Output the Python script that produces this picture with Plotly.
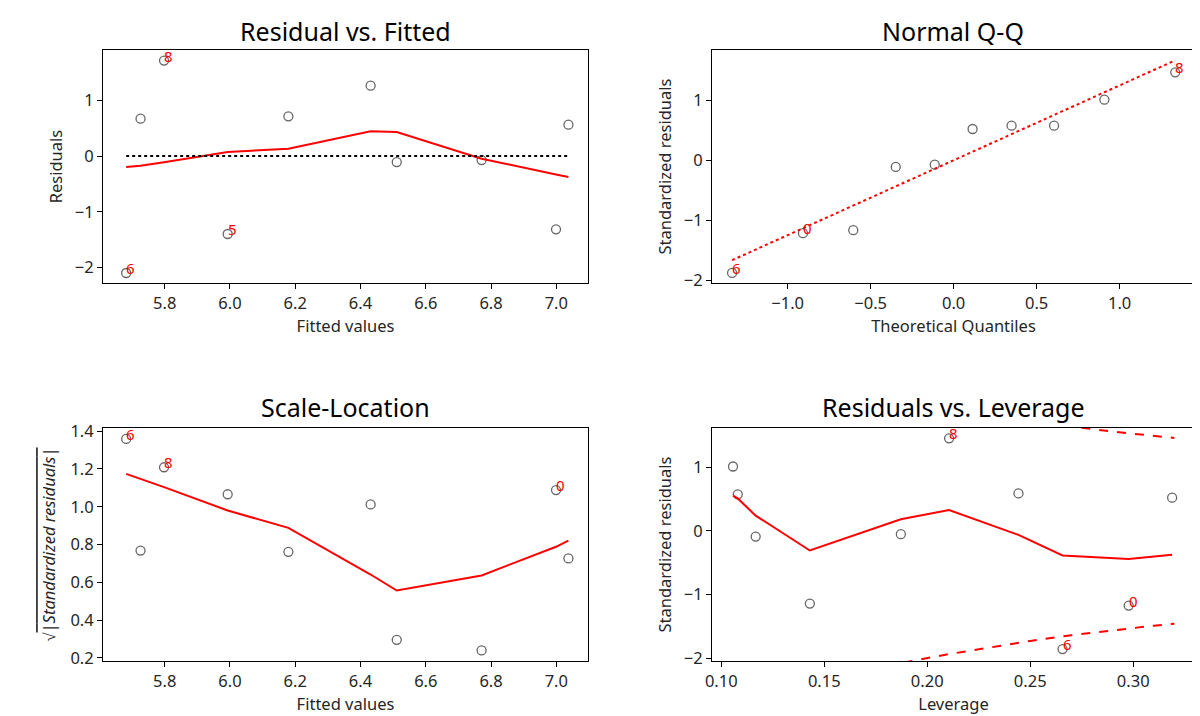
import plotly.graph_objects as go

# ---------------- data ----------------
idx = [0, 1, 2, 3, 4, 5, 6, 7, 8, 9]
fitted = [6.999, 5.726, 6.179, 6.431, 6.511, 5.993, 5.682, 6.771, 5.798, 7.037]
residuals = [-1.314, 0.669, 0.711, 1.26, -0.108, -1.398, -2.097, -0.072, 1.71, 0.561]

lowess_fit_x = [5.682, 5.726, 5.798, 5.993, 6.179, 6.431, 6.511, 6.771, 6.999, 7.037]
lowess_fit_y = [-0.197, -0.173, -0.11, 0.072, 0.131, 0.442, 0.43, -0.048, -0.33, -0.376]
zero_x = [5.682, 7.037]
zero_y = [0.0, 0.0]
label_fit = [8, 5, 6]

theo_q = [-1.335, -0.908, -0.605, -0.349, -0.114, 0.114, 0.349, 0.605, 0.908, 1.335]
sample_q = [-1.872, -1.21, -1.16, -0.105, -0.067, 0.528, 0.583, 0.583, 1.017, 1.473]
qq_ids = [6, 0, None, None, None, None, None, None, None, 8]
qq_line_x = [-1.335, 1.335]
qq_line_y = [-1.66, 1.673]

sqrt_std = [1.088, 0.768, 0.761, 1.012, 0.295, 1.066, 1.359, 0.239, 1.209, 0.726]
lowess_sl_y = [1.174, 1.149, 1.104, 0.98, 0.888, 0.641, 0.556, 0.636, 0.788, 0.821]
label_sl = [6, 8, 0]

leverage = [0.2978, 0.1057, 0.108, 0.1167, 0.143, 0.1872, 0.2106, 0.2443, 0.2657, 0.3189]
std_resid_lev = [-1.174, 1.012, 0.574, -0.089, -1.142, -0.052, 1.455, 0.589, -1.857, 0.522]
lev_ids = [0, None, None, None, None, None, 8, None, 6, None]
lowess_lev_x = [0.1057, 0.108, 0.1167, 0.143, 0.1872, 0.2106, 0.2443, 0.2657, 0.2978, 0.3189]
lowess_lev_y = [0.553, 0.51, 0.24, -0.308, 0.183, 0.329, -0.063, -0.386, -0.443, -0.376]
cook_x = [0.18, 0.19, 0.21, 0.23, 0.25, 0.27, 0.29, 0.31, 0.32]
cook_lo = [-2.13, -2.06, -1.94, -1.83, -1.73, -1.64, -1.56, -1.49, -1.46]
cook_hi = [2.13, 2.06, 1.94, 1.83, 1.73, 1.64, 1.56, 1.49, 1.46]

titles = ["Residual vs. Fitted", "Normal Q-Q", "Scale-Location", "Residuals vs. Leverage"]

# ---------------- figure ----------------
FONT = "Noto Sans"
W, H = 1200, 716
fig = go.Figure()

marker = dict(symbol="circle-open", size=9, color="#666666", line=dict(width=1.3, color="#666666"))
red = "#ff0000"

# panel 1
fig.add_trace(go.Scatter(x=fitted, y=residuals, mode="markers", marker=marker, xaxis="x", yaxis="y"))
fig.add_trace(go.Scatter(x=lowess_fit_x, y=lowess_fit_y, mode="lines", line=dict(color=red, width=2), xaxis="x", yaxis="y"))
fig.add_trace(go.Scatter(x=zero_x, y=zero_y, mode="lines", line=dict(color="black", width=2, dash="dot"), xaxis="x", yaxis="y"))

# panel 2
fig.add_trace(go.Scatter(x=theo_q, y=sample_q, mode="markers", marker=marker, xaxis="x2", yaxis="y2"))
fig.add_trace(go.Scatter(x=qq_line_x, y=qq_line_y, mode="lines", line=dict(color=red, width=2, dash="dot"), xaxis="x2", yaxis="y2"))

# panel 3
fig.add_trace(go.Scatter(x=fitted, y=sqrt_std, mode="markers", marker=marker, xaxis="x3", yaxis="y3"))
fig.add_trace(go.Scatter(x=lowess_fit_x, y=lowess_sl_y, mode="lines", line=dict(color=red, width=2), xaxis="x3", yaxis="y3"))

# panel 4
fig.add_trace(go.Scatter(x=leverage, y=std_resid_lev, mode="markers", marker=marker, xaxis="x4", yaxis="y4"))
fig.add_trace(go.Scatter(x=lowess_lev_x, y=lowess_lev_y, mode="lines", line=dict(color=red, width=2), xaxis="x4", yaxis="y4"))
fig.add_trace(go.Scatter(x=cook_x, y=cook_lo, mode="lines", line=dict(color=red, width=2, dash="dash"), xaxis="x4", yaxis="y4"))
fig.add_trace(go.Scatter(x=cook_x, y=cook_hi, mode="lines", line=dict(color=red, width=2, dash="dash"), xaxis="x4", yaxis="y4"))

annotations = []


def lab(x, y, t, xr, yr):
    annotations.append(dict(x=x, y=y, xref=xr, yref=yr, text=str(t), showarrow=False,
                            xanchor="left", yanchor="bottom", yshift=-6, xshift=-1, borderpad=0,
                            font=dict(family=FONT, size=15, color=red)))


for i in label_fit:
    k = idx.index(i)
    lab(fitted[k], residuals[k], i, "x", "y")
for q, s, i in zip(theo_q, sample_q, qq_ids):
    if i is not None:
        lab(q, s, i, "x2", "y2")
for i in label_sl:
    k = idx.index(i)
    lab(fitted[k], sqrt_std[k], i, "x3", "y3")
for lv, s, i in zip(leverage, std_resid_lev, lev_ids):
    if i is not None:
        lab(lv, s, i, "x4", "y4")

# domains (paper coordinates)
xd_l = [95 / W, 580 / W]
xd_r = [704 / W, 1187 / W]
yd_t = [1 - 275 / H, 1 - 42 / H]
yd_b = [1 - 653 / H, 1 - 420 / H]

title_pos = [((xd_l[0] + xd_l[1]) / 2, 1 - 23 / H), ((xd_r[0] + xd_r[1]) / 2, 1 - 23 / H),
             ((xd_l[0] + xd_l[1]) / 2, 1 - 399 / H), ((xd_r[0] + xd_r[1]) / 2, 1 - 399 / H)]
for t, (px, py) in zip(titles, title_pos):
    annotations.append(dict(x=px, y=py, xref="paper", yref="paper", text=t, showarrow=False,
                            xanchor="center", yanchor="middle", borderpad=0,
                            font=dict(family=FONT, size=25, color="black")))

axis_common = dict(showline=True, linecolor="black", linewidth=1, mirror=True, ticks="outside",
                   ticklen=5, tickcolor="black", showgrid=False, zeroline=False, automargin=False,
                   tickfont=dict(family=FONT, size=16.5, color="#262626"),
                   title_font=dict(family=FONT, size=16.5, color="#262626"))

fig.update_layout(
    width=W, height=H, margin=dict(l=0, r=0, t=0, b=0),
    plot_bgcolor="white", paper_bgcolor="white", showlegend=False,
    font=dict(family=FONT),
    xaxis=dict(domain=xd_l, anchor="y", range=[5.611, 7.097], tickvals=[5.8, 6.0, 6.2, 6.4, 6.6, 6.8, 7.0],
               tickformat=".1f", title=dict(text="Fitted values", standoff=1), **axis_common),
    yaxis=dict(domain=yd_t, anchor="x", range=[-2.276, 1.90], tickvals=[-2, -1, 0, 1],
               title=dict(text="Residuals", standoff=8), **axis_common),
    xaxis2=dict(domain=xd_r, anchor="y2", range=[-1.456, 1.454], tickvals=[-1.0, -0.5, 0.0, 0.5, 1.0],
                tickformat=".1f", title=dict(text="Theoretical Quantiles", standoff=1), **axis_common),
    yaxis2=dict(domain=yd_t, anchor="x2", range=[-2.04, 1.845], tickvals=[-2, -1, 0, 1],
                title=dict(text="Standardized residuals", standoff=8), **axis_common),
    xaxis3=dict(domain=xd_l, anchor="y3", range=[5.611, 7.097], tickvals=[5.8, 6.0, 6.2, 6.4, 6.6, 6.8, 7.0],
                tickformat=".1f", title=dict(text="Fitted values", standoff=1), **axis_common),
    yaxis3=dict(domain=yd_b, anchor="x3", range=[0.183, 1.417], tickvals=[0.2, 0.4, 0.6, 0.8, 1.0, 1.2, 1.4],
                tickformat=".1f",
                title=dict(text="√<span style=\"text-decoration:overline\">|<i>Standardized residuals</i>|</span>", standoff=10),
                **axis_common),
    xaxis4=dict(domain=xd_r, anchor="y4", range=[0.0955, 0.3300], tickvals=[0.10, 0.15, 0.20, 0.25, 0.30],
                tickformat=".2f", title=dict(text="Leverage", standoff=1), **axis_common),
    yaxis4=dict(domain=yd_b, anchor="x4", range=[-2.045, 1.617], tickvals=[-2, -1, 0, 1],
                title=dict(text="Standardized residuals", standoff=8), **axis_common),
    annotations=annotations,
)

fig.write_html("out.html")
